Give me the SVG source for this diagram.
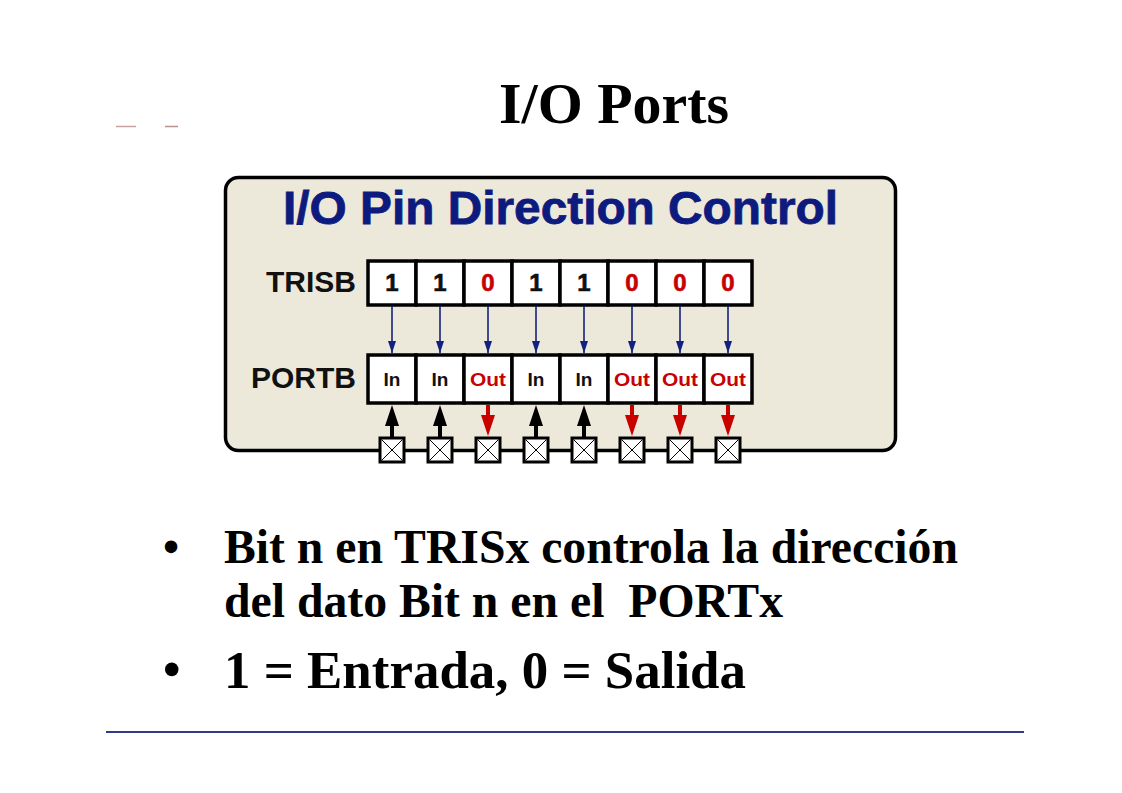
<svg xmlns="http://www.w3.org/2000/svg" width="1122" height="793" viewBox="0 0 1122 793">
<defs>
<style>
.serif{font-family:"Liberation Serif","Times New Roman",serif;font-weight:bold;fill:#000}
.sans{font-family:"Liberation Sans",Arial,sans-serif;font-weight:bold}
.cell{fill:#fff;stroke:#000;stroke-width:3.5}
.pin{fill:#fff;stroke:#000;stroke-width:3}
.x{stroke:#000;stroke-width:1}
.ctl{stroke:#14207e;stroke-width:1.6;fill:none}
.blk{fill:#000}
.red{fill:#c80000}
.d1{font-size:24px;fill:#111;text-anchor:middle;stroke:#111;stroke-width:0.6}
.d0{font-size:24px;fill:#c80000;text-anchor:middle;stroke:#c80000;stroke-width:0.6}
.io{font-size:19px;text-anchor:middle}
</style>
<marker id="bh" viewBox="0 0 12 8" refX="12" refY="4" markerWidth="12" markerHeight="8" markerUnits="userSpaceOnUse" orient="auto">
<path d="M0,0 L12,4 L0,8 Z" fill="#14207e"/>
</marker>
</defs>
<rect width="1122" height="793" fill="#fff"/>
<line x1="116" y1="126.5" x2="136" y2="126.5" stroke="#c8a0a0" stroke-width="1.5"/>
<line x1="165" y1="126.5" x2="178" y2="126.5" stroke="#b89090" stroke-width="1.5"/>
<text class="serif" x="499" y="123" font-size="58" textLength="230" lengthAdjust="spacingAndGlyphs">I/O Ports</text>

<g id="panel">
<rect x="225.5" y="177.5" width="670" height="273" rx="13" fill="#ece9da" stroke="#000" stroke-width="3.5"/>
<text class="sans" x="283" y="224" font-size="47" fill="#0d1a7e" stroke="#0d1a7e" stroke-width="0.8" textLength="555" lengthAdjust="spacingAndGlyphs">I/O Pin Direction Control</text>
<text class="sans" x="356" y="292" font-size="30" fill="#111" text-anchor="end">TRISB</text>
<text class="sans" x="356" y="388" font-size="30" fill="#111" text-anchor="end">PORTB</text>
</g>

<g id="trisb">
<rect class="cell" x="368" y="261" width="48" height="44"/>
<rect class="cell" x="416" y="261" width="48" height="44"/>
<rect class="cell" x="464" y="261" width="48" height="44"/>
<rect class="cell" x="512" y="261" width="48" height="44"/>
<rect class="cell" x="560" y="261" width="48" height="44"/>
<rect class="cell" x="608" y="261" width="48" height="44"/>
<rect class="cell" x="656" y="261" width="48" height="44"/>
<rect class="cell" x="704" y="261" width="48" height="44"/>
<text class="sans d1" x="392" y="291">1</text>
<text class="sans d1" x="440" y="291">1</text>
<text class="sans d0" x="488" y="291">0</text>
<text class="sans d1" x="536" y="291">1</text>
<text class="sans d1" x="584" y="291">1</text>
<text class="sans d0" x="632" y="291">0</text>
<text class="sans d0" x="680" y="291">0</text>
<text class="sans d0" x="728" y="291">0</text>
</g>

<g id="portb">
<rect class="cell" x="368" y="355" width="48" height="48"/>
<rect class="cell" x="416" y="355" width="48" height="48"/>
<rect class="cell" x="464" y="355" width="48" height="48"/>
<rect class="cell" x="512" y="355" width="48" height="48"/>
<rect class="cell" x="560" y="355" width="48" height="48"/>
<rect class="cell" x="608" y="355" width="48" height="48"/>
<rect class="cell" x="656" y="355" width="48" height="48"/>
<rect class="cell" x="704" y="355" width="48" height="48"/>
<text class="sans io" x="392" y="386" fill="#111">In</text>
<text class="sans io" x="440" y="386" fill="#111">In</text>
<text class="sans io" x="488" y="386" fill="#c80000" textLength="36" lengthAdjust="spacingAndGlyphs">Out</text>
<text class="sans io" x="536" y="386" fill="#111">In</text>
<text class="sans io" x="584" y="386" fill="#111">In</text>
<text class="sans io" x="632" y="386" fill="#c80000" textLength="36" lengthAdjust="spacingAndGlyphs">Out</text>
<text class="sans io" x="680" y="386" fill="#c80000" textLength="36" lengthAdjust="spacingAndGlyphs">Out</text>
<text class="sans io" x="728" y="386" fill="#c80000" textLength="36" lengthAdjust="spacingAndGlyphs">Out</text>
</g>

<g id="pins">
<rect class="pin" x="380" y="438" width="24" height="24"/><path class="x" d="M381.5,439.5 L402.5,460.5 M402.5,439.5 L381.5,460.5"/>
<rect class="pin" x="428" y="438" width="24" height="24"/><path class="x" d="M429.5,439.5 L450.5,460.5 M450.5,439.5 L429.5,460.5"/>
<rect class="pin" x="476" y="438" width="24" height="24"/><path class="x" d="M477.5,439.5 L498.5,460.5 M498.5,439.5 L477.5,460.5"/>
<rect class="pin" x="524" y="438" width="24" height="24"/><path class="x" d="M525.5,439.5 L546.5,460.5 M546.5,439.5 L525.5,460.5"/>
<rect class="pin" x="572" y="438" width="24" height="24"/><path class="x" d="M573.5,439.5 L594.5,460.5 M594.5,439.5 L573.5,460.5"/>
<rect class="pin" x="620" y="438" width="24" height="24"/><path class="x" d="M621.5,439.5 L642.5,460.5 M642.5,439.5 L621.5,460.5"/>
<rect class="pin" x="668" y="438" width="24" height="24"/><path class="x" d="M669.5,439.5 L690.5,460.5 M690.5,439.5 L669.5,460.5"/>
<rect class="pin" x="716" y="438" width="24" height="24"/><path class="x" d="M717.5,439.5 L738.5,460.5 M738.5,439.5 L717.5,460.5"/>
</g>

<g id="connectors">
<line class="ctl" x1="392" y1="306" x2="392" y2="353" marker-end="url(#bh)"/>
<line class="ctl" x1="440" y1="306" x2="440" y2="353" marker-end="url(#bh)"/>
<line class="ctl" x1="488" y1="306" x2="488" y2="353" marker-end="url(#bh)"/>
<line class="ctl" x1="536" y1="306" x2="536" y2="353" marker-end="url(#bh)"/>
<line class="ctl" x1="584" y1="306" x2="584" y2="353" marker-end="url(#bh)"/>
<line class="ctl" x1="632" y1="306" x2="632" y2="353" marker-end="url(#bh)"/>
<line class="ctl" x1="680" y1="306" x2="680" y2="353" marker-end="url(#bh)"/>
<line class="ctl" x1="728" y1="306" x2="728" y2="353" marker-end="url(#bh)"/>
<path class="blk" d="M390,437 L390,426 L385,426 L392,405 L399,426 L394,426 L394,437 Z"/>
<path class="blk" d="M438,437 L438,426 L433,426 L440,405 L447,426 L442,426 L442,437 Z"/>
<path class="blk" d="M534,437 L534,426 L529,426 L536,405 L543,426 L538,426 L538,437 Z"/>
<path class="blk" d="M582,437 L582,426 L577,426 L584,405 L591,426 L586,426 L586,437 Z"/>
<path class="red" d="M486,405 L486,415 L481,415 L488,436 L495,415 L490,415 L490,405 Z"/>
<path class="red" d="M630,405 L630,415 L625,415 L632,436 L639,415 L634,415 L634,405 Z"/>
<path class="red" d="M678,405 L678,415 L673,415 L680,436 L687,415 L682,415 L682,405 Z"/>
<path class="red" d="M726,405 L726,415 L721,415 L728,436 L735,415 L730,415 L730,405 Z"/>
</g>

<text class="serif" x="163" y="562" font-size="46">•</text>
<text class="serif" x="224" y="563" font-size="47.5" textLength="734" lengthAdjust="spacingAndGlyphs">Bit n en TRISx controla la dirección</text>
<text class="serif" x="224" y="617" font-size="47.5" textLength="559" lengthAdjust="spacingAndGlyphs" xml:space="preserve">del dato Bit n en el  PORTx</text>
<text class="serif" x="163" y="686" font-size="50">•</text>
<text class="serif" x="224" y="688" font-size="53" textLength="522" lengthAdjust="spacingAndGlyphs">1 = Entrada, 0 = Salida</text>
<line x1="106" y1="732" x2="1024" y2="732" stroke="#2e3a8c" stroke-width="2"/>
</svg>
